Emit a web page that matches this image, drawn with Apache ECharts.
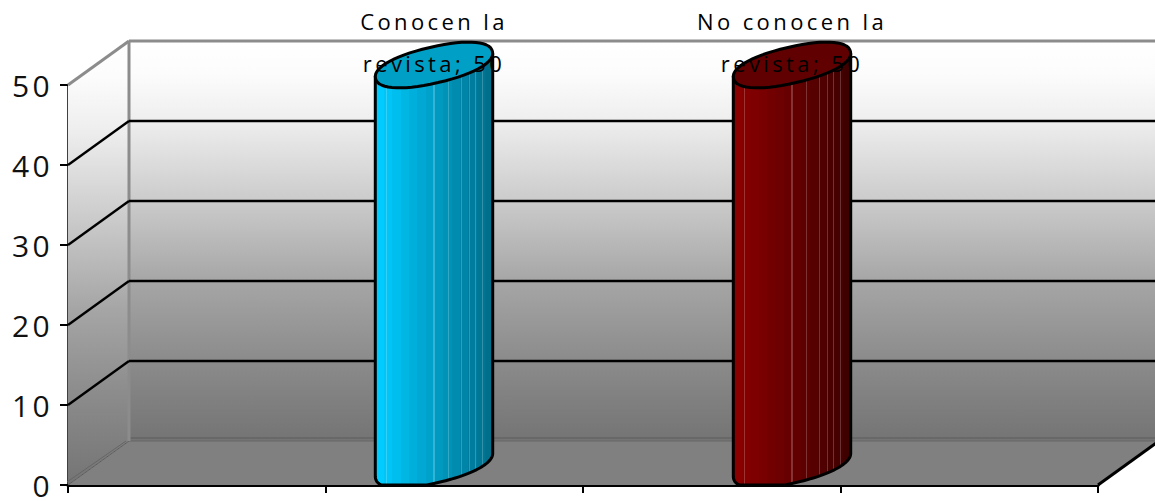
<!DOCTYPE html>
<html><head><meta charset="utf-8">
<style>
html,body{margin:0;padding:0;background:#fff;overflow:hidden}
#c{width:1155px;height:501px}
#c text{letter-spacing:3.4px}
</style>
<script src="https://cdn.jsdelivr.net/npm/echarts@6/dist/echarts.min.js"></script>
</head><body><div id="c"></div>
<script>
const categories = ['Conocen la\nrevista', 'No conocen la\nrevista'];
const values = [50, 50];
const yTicks = [0, 10, 20, 30, 40, 50];
const bodyEnds = [['#00ccff','#006f8c'], ['#8a0000','#3f0000']];
const capColors = ['#009fc6', '#600000'];
const stripeAt = [.1, .5, .62, .73, .8, .85, .91];

const DX = 61, DY = -44;            // 3D depth of the box
const MAJOR = 60, MINOR = 18;       // half axes of the tilted cylinder section
const TILT = 13*Math.PI/180;
const OX = 30, OY = 20;             // cylinder sits mid-depth
const ROUND = 0.9;                  // exponent that fattens the ellipse ends

const chart = echarts.init(document.getElementById('c'), null, {renderer:'svg'});
const black = {stroke:'#000', lineWidth:2.4};

function line(a, b, style, z){
  return {type:'line', shape:{x1:a[0],y1:a[1],x2:b[0],y2:b[1]}, style:style, z2:z||0};
}
function wallGrad(){
  return new echarts.graphic.LinearGradient(0,0,0,1,[
    {offset:0,color:'#ffffff'},{offset:.08,color:'#fcfcfc'},{offset:.2,color:'#eeeeee'},{offset:.4,color:'#cbcbcb'},
    {offset:.6,color:'#a6a6a6'},{offset:.8,color:'#8b8b8b'},{offset:1,color:'#747474'}]);
}
function renderBox(params, api){
  const p00 = api.coord([0,0]), p40 = api.coord([4,0]), p05 = api.coord([0,50]);
  const b = (p,dx,dy)=>[p[0]+dx,p[1]+dy];
  const p45 = [p40[0],p05[1]];
  return {type:'group', children:[
    {type:'polygon', shape:{points:[b(p05,DX,DY),b(p45,DX,DY),b(p40,DX,DY),b(p00,DX,DY)]}, style:{fill:wallGrad()}},
    {type:'polygon', shape:{points:[p05,b(p05,DX,DY),b(p00,DX,DY),p00]}, style:{fill:wallGrad()}},
    {type:'polygon', shape:{points:[p00,b(p00,DX,DY),b(p40,DX,DY),p40]}, style:{fill:'#808080'}},
    line(b(p00,DX,DY-3),b(p40,DX,DY-3),{stroke:'#5c5c5c',lineWidth:1}),
    line(b(p00,DX,DY),b(p40,DX,DY),{stroke:'#666',lineWidth:1}),
    line(b(p00,DX,DY),p00,{stroke:'#5c5c5c',lineWidth:1}),
    line(b(p00,DX-3,DY),[p00[0]-1,p00[1]-3],{stroke:'#666',lineWidth:1}),
    line(p05,b(p05,DX,DY),{stroke:'#8c8c8c',lineWidth:3}),
    line(b(p05,DX,DY),b(p45,DX,DY),{stroke:'#8c8c8c',lineWidth:3}),
    line(b(p05,DX,DY),b(p00,DX,DY),{stroke:'#8c8c8c',lineWidth:3}),
    line(p40,b(p40,DX,DY),{stroke:'#000',lineWidth:3})
  ]};
}
function renderGrid(params, api){
  const v = api.value(0);
  if (v === 0 || v === 50) return null;
  const a = api.coord([0,v]), c = api.coord([4,v]);
  return {type:'group', children:[
    line(a,[a[0]+DX,a[1]+DY],black),
    line([a[0]+DX,a[1]+DY],[c[0]+DX,c[1]+DY],black)
  ]};
}
const spow = x => Math.sign(x)*Math.pow(Math.abs(x), ROUND);
function ring(cx, cy, n){
  const pts = [];
  for (let i=0;i<n;i++){
    const t = 2*Math.PI*i/n;
    const u = MAJOR*spow(Math.cos(t)), v = MINOR*spow(Math.sin(t));
    pts.push([cx+u*Math.cos(TILT)+v*Math.sin(TILT), cy-u*Math.sin(TILT)+v*Math.cos(TILT)]);
  }
  return pts;
}
function bodyGradient(i){
  const stops = [], N = 117, FACETS = 14;
  for (let k=0;k<N;k++){
    const f = k/N;
    let col = echarts.color.lerp(Math.floor(f*FACETS)/(FACETS-1), bodyEnds[i]);
    if (stripeAt.some(s=>Math.abs(s-f-.5/N)<.5/N)) col = echarts.color.lerp(.2,[col,'#ffffff']);
    stops.push({offset:f,color:col},{offset:(k+1)/N,color:col});
  }
  return new echarts.graphic.LinearGradient(0,0,1,0,stops);
}
function renderCyl(params, api){
  const i = params.dataIndex;
  const top = api.coord([i, api.value(1)]), bot = api.coord([i, 0]);
  const cx = top[0]+OX, ty = top[1]-OY, by = bot[1]-OY;
  const n = 120, full = ring(cx, by, n);
  let li = 0, ri = 0;
  full.forEach((p,k)=>{ if(p[0]<full[li][0]) li=k; if(p[0]>full[ri][0]) ri=k; });
  // in this ring y grows with t, so the lower edge runs from the right-most point round to the left-most
  const lower = [];
  for (let k=ri; ; k=(k+1)%n){ lower.push([full[k][0], Math.min(full[k][1], bot[1])]); if(k===li) break; }
  const h = by-ty;
  const bodyPts = lower.concat([[full[li][0],full[li][1]-h],[full[ri][0],full[ri][1]-h]]);
  const value = api.value(1);
  return {type:'group', children:[
    {type:'polygon', shape:{points:bodyPts}, style:{fill:bodyGradient(i),stroke:'#000',lineWidth:3,lineJoin:'round'}},
    {type:'polygon', shape:{points:ring(cx,ty,60)}, style:{fill:capColors[i],stroke:'#000',lineWidth:3,lineJoin:'round'}},
    {type:'text', x:cx, y:ty+19, style:{text:categories[i]+'; '+value, fill:'#000', align:'center', verticalAlign:'bottom',
      font:'22px "Open Sans"', lineHeight:42}}
  ]};
}
chart.setOption({
  animation:false,
  backgroundColor:'#fff',
  grid:[
    {left:68, top:85, width:1030, height:400},
    {left:225, top:85, width:716, height:400}
  ],
  xAxis:[
    {type:'value', gridIndex:0, min:0, max:4, interval:1, splitLine:{show:false},
     axisLabel:{show:false}, axisLine:{show:true,onZero:false,lineStyle:{color:'#000',width:3}},
     axisTick:{show:true,length:8,lineStyle:{color:'#000',width:2}}},
    {type:'category', gridIndex:1, data:categories, show:false}
  ],
  yAxis:[
    {type:'value', gridIndex:0, min:0, max:50, interval:10, splitLine:{show:false},
     axisLine:{show:true,lineStyle:{color:'#000',width:2.5}},
     axisTick:{show:true,length:8,lineStyle:{color:'#000',width:2}},
     axisLabel:{fontFamily:'Open Sans',fontSize:30,lineHeight:24,color:'#111',margin:15,padding:[8,0,0,0]}},
    {type:'value', gridIndex:1, min:0, max:50, interval:10, show:false}
  ],
  series:[
    {type:'custom', xAxisIndex:0, yAxisIndex:0, z:1, clip:false, silent:true, data:[[0]], renderItem:renderBox},
    {type:'custom', xAxisIndex:0, yAxisIndex:0, z:2, clip:false, silent:true, data:yTicks.map(v=>[v]), renderItem:renderGrid},
    {type:'custom', xAxisIndex:1, yAxisIndex:1, z:3, clip:false, silent:true, data:values.map((v,i)=>[i,v]), encode:{x:0,y:1}, renderItem:renderCyl}
  ]
});
</script></body></html>
